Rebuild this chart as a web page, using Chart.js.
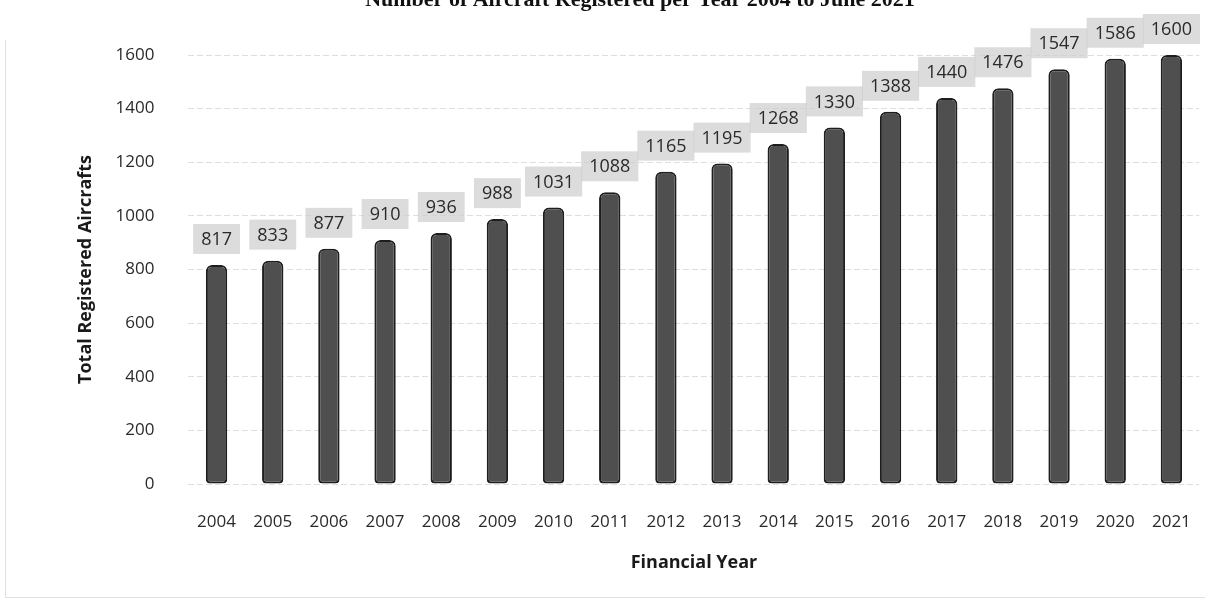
<!DOCTYPE html>
<html>
<head>
<meta charset="utf-8">
<script src="https://cdn.jsdelivr.net/npm/chart.js@4"></script>
<style>
  html, body { margin: 0; padding: 0; background: #ffffff; }
  #wrap { position: relative; width: 1211px; height: 611px; }
</style>
</head>
<body>
<div id="wrap"><canvas id="aircraftChart" width="1211" height="611"></canvas></div>
<script>
const years = ['2004', '2005', '2006', '2007', '2008', '2009', '2010', '2011', '2012',
  '2013', '2014', '2015', '2016', '2017', '2018', '2019', '2020', '2021'];
const registeredAircrafts = [817, 833, 877, 910, 936, 988, 1031, 1088, 1165,
  1195, 1268, 1330, 1388, 1440, 1476, 1547, 1586, 1600];
const chartTitle = 'Number of Aircraft Registered per Year 2004 to June 2021';

const fontFamily = '"Open Sans", "Liberation Sans", sans-serif';

// value boxes above each bar (grey box, dark text)
const valueBoxes = {
  id: 'valueBoxes',
  afterDatasetsDraw(chart) {
    const ctx = chart.ctx;
    const meta = chart.getDatasetMeta(0);
    ctx.save();
    ctx.font = '18px ' + fontFamily;
    ctx.textAlign = 'center';
    ctx.textBaseline = 'middle';
    meta.data.forEach((bar, i) => {
      const text = String(registeredAircrafts[i]);
      const w = ctx.measureText(text).width + 16;
      const h = 30;
      const cy = bar.y - 26;
      ctx.fillStyle = 'rgba(205,205,205,0.7)';
      ctx.fillRect(bar.x - w / 2, cy - h / 2, w, h);
      ctx.fillStyle = '#2a2a2a';
      ctx.fillText(text, bar.x, cy + 1);
    });
    ctx.restore();
  },
};

// title is cut off at the top edge in the scan, plus faint scan border
const cutTitle = {
  id: 'cutTitle',
  afterDraw(chart) {
    const ctx = chart.ctx;
    ctx.save();
    ctx.font = 'bold 22px "Liberation Serif", serif';
    ctx.textAlign = 'center';
    ctx.textBaseline = 'middle';
    ctx.fillStyle = '#111111';
    ctx.fillText(chartTitle, 640, 0);
    ctx.strokeStyle = 'rgba(0,0,0,0.12)';
    ctx.lineWidth = 1;
    ctx.beginPath();
    ctx.moveTo(5.5, 40);
    ctx.lineTo(5.5, 597.5);
    ctx.lineTo(1205, 597.5);
    ctx.stroke();
    ctx.restore();
  },
};

const ctx = document.getElementById('aircraftChart').getContext('2d');

new Chart(ctx, {
  type: 'bar',
  data: {
    labels: years,
    datasets: [
      {
        label: 'Total Registered Aircrafts',
        data: registeredAircrafts,
        backgroundColor: '#4f4f4f',
        borderColor: '#1e1e1e',
        borderWidth: 2,
        borderRadius: { topLeft: 6, topRight: 6, bottomLeft: 4, bottomRight: 4 },
        borderSkipped: false,
        barPercentage: 0.38,
        categoryPercentage: 1,
      },
    ],
  },
  options: {
    responsive: false,
    animation: false,
    layout: {
      padding: { top: 55, right: 6, bottom: 33, left: 71 },
    },
    plugins: {
      legend: { display: false },
      tooltip: { enabled: false },
    },
    scales: {
      x: {
        grid: { display: false },
        border: { display: false },
        ticks: {
          color: '#2a2a2a',
          font: { size: 17, family: fontFamily },
          maxRotation: 0,
          padding: 20,
        },
        title: {
          display: true,
          text: 'Financial Year',
          color: '#1a1a1a',
          font: { size: 18, weight: 'bold', family: fontFamily },
          padding: { top: 0 },
        },
      },
      y: {
        min: 0,
        max: 1600,
        ticks: {
          stepSize: 200,
          color: '#2a2a2a',
          font: { size: 17, family: fontFamily },
          padding: 34,
          callback: (value) => String(value),
        },
        grid: { color: 'rgba(0,0,0,0.13)', drawTicks: false },
        border: { display: false, dash: [6, 3] },
        title: {
          display: true,
          text: 'Total Registered Aircrafts',
          color: '#1a1a1a',
          font: { size: 18, weight: 'bold', family: fontFamily },
          padding: { bottom: -15 },
        },
      },
    },
  },
  plugins: [valueBoxes, cutTitle],
});
</script>
</body>
</html>
